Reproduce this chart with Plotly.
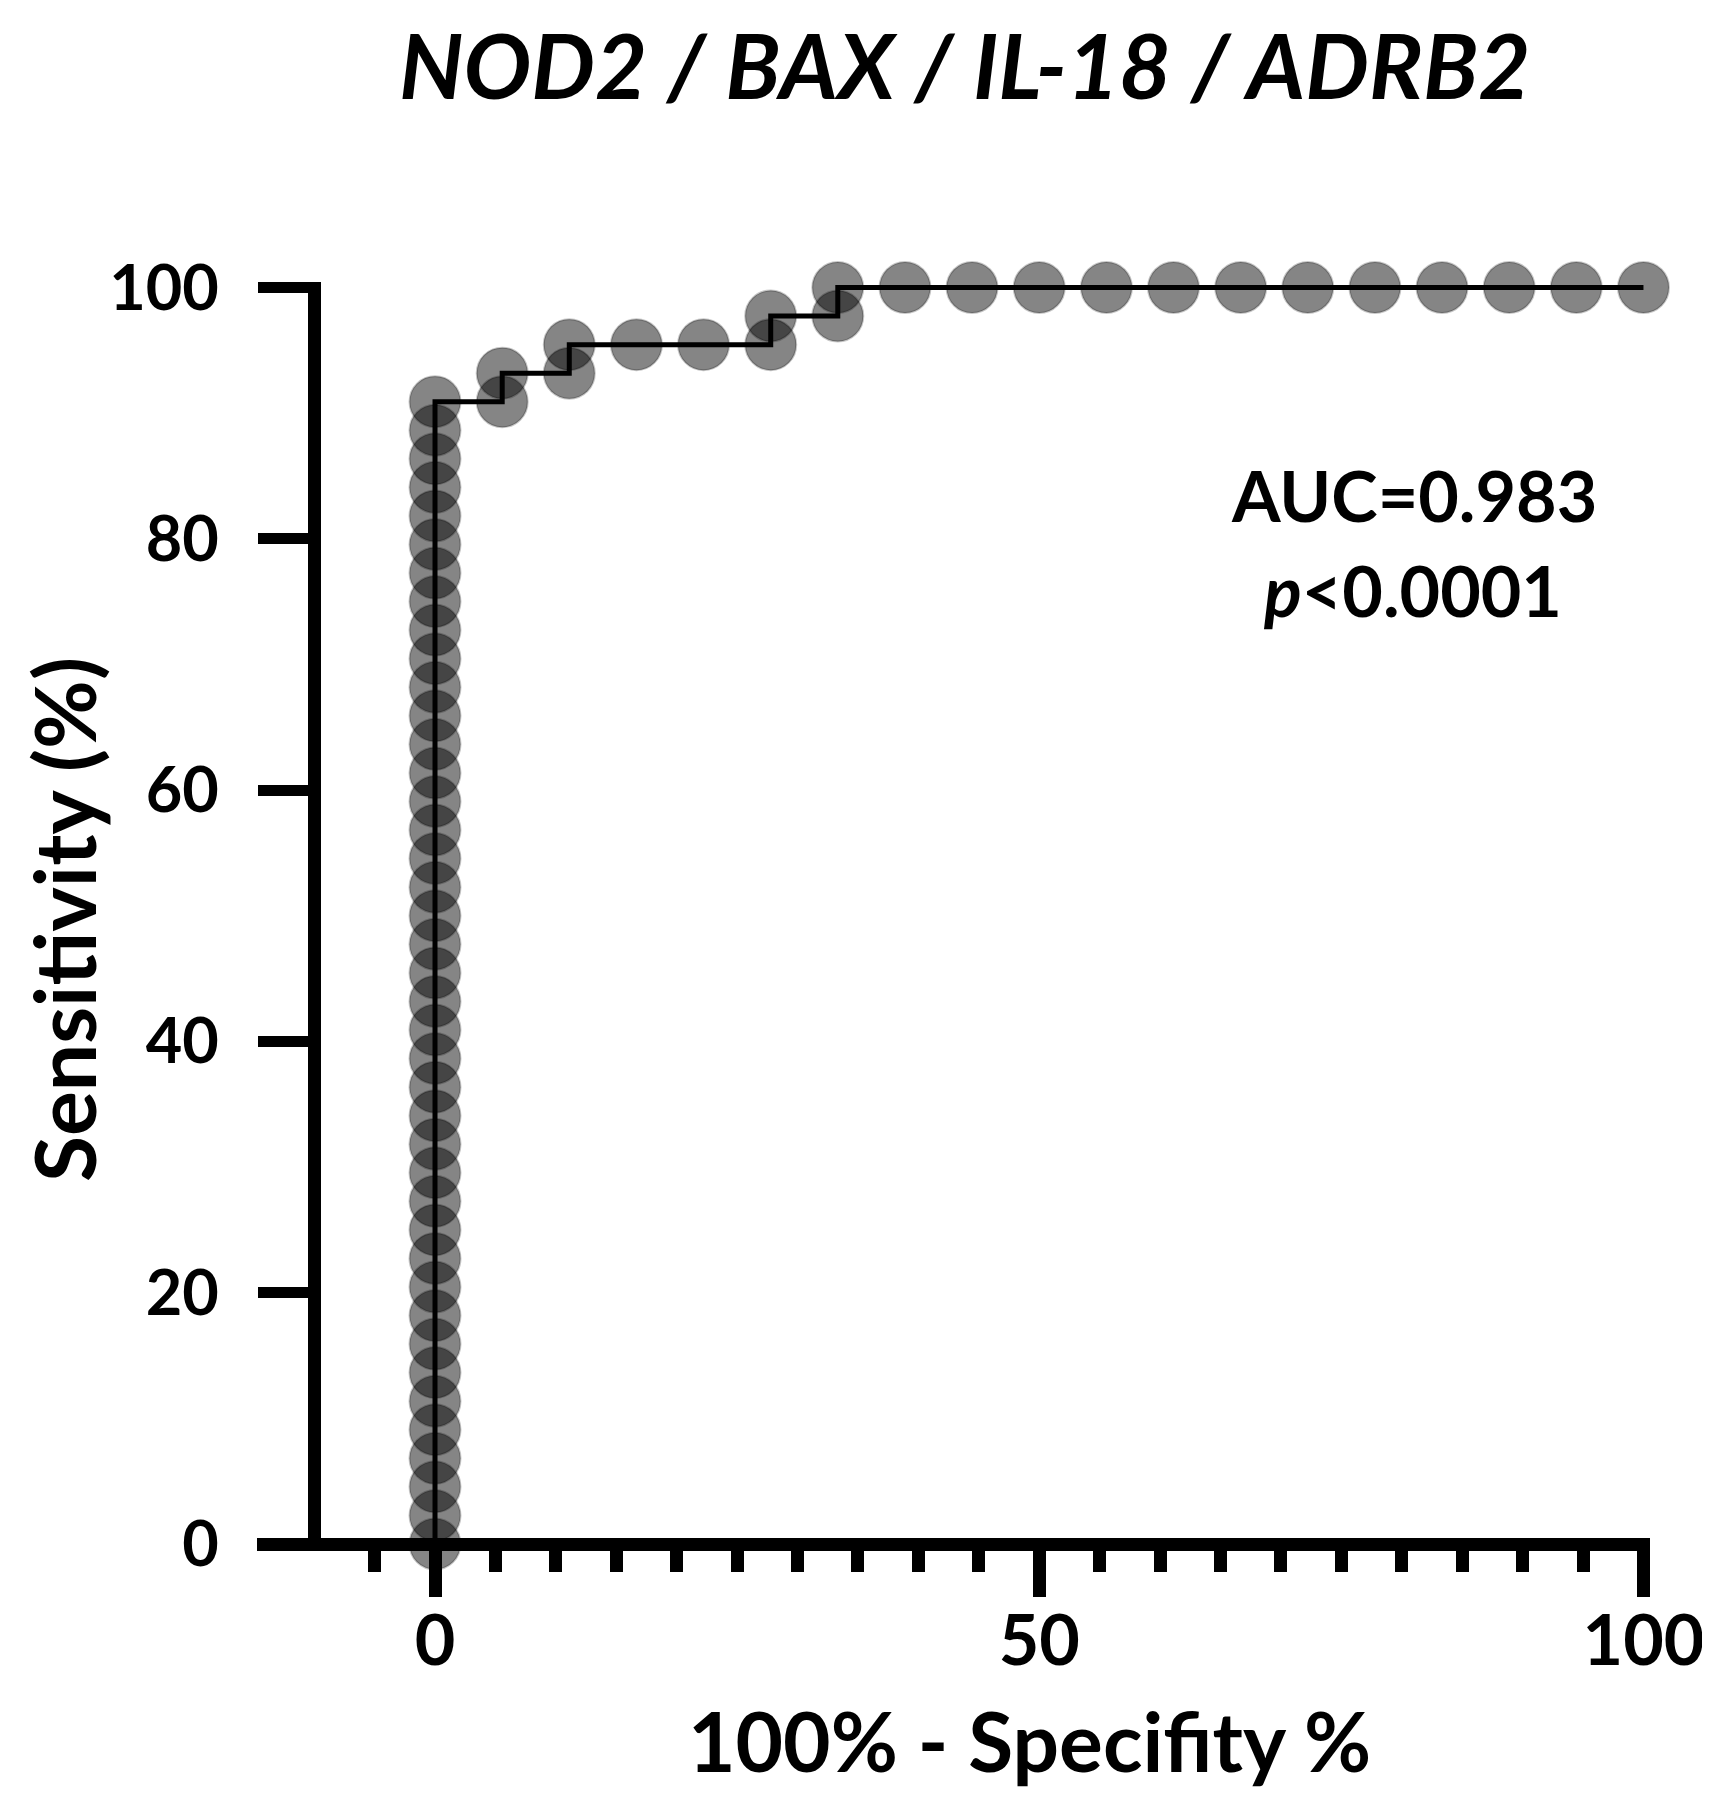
import plotly.graph_objects as go

# 100% - Specificity (%) for each ROC point
fpr = [0, 0, 0, 0, 0, 0, 0, 0, 0, 0,
       0, 0, 0, 0, 0, 0, 0, 0, 0, 0,
       0, 0, 0, 0, 0, 0, 0, 0, 0, 0,
       0, 0, 0, 0, 0, 0, 0, 0, 0, 0,
       0,
       5.56, 5.56, 11.11, 11.11, 16.67, 22.22, 27.78, 27.78, 33.33, 33.33,
       38.89, 44.44, 50.0, 55.56, 61.11, 66.67, 72.22, 77.78, 83.33, 88.89,
       94.44, 100.0]
# Sensitivity (%) for each ROC point
sens = [0.0, 2.27, 4.55, 6.82, 9.09, 11.36, 13.64, 15.91, 18.18, 20.45,
        22.73, 25.0, 27.27, 29.55, 31.82, 34.09, 36.36, 38.64, 40.91, 43.18,
        45.45, 47.73, 50.0, 52.27, 54.55, 56.82, 59.09, 61.36, 63.64, 65.91,
        68.18, 70.45, 72.73, 75.0, 77.27, 79.55, 81.82, 84.09, 86.36, 88.64,
        90.91,
        90.91, 93.18, 93.18, 95.45, 95.45, 95.45, 95.45, 97.73, 97.73, 100.0,
        100.0, 100.0, 100.0, 100.0, 100.0, 100.0, 100.0, 100.0, 100.0, 100.0,
        100.0, 100.0]

x_major_ticks = [0, 50, 100]
x_minor_ticks = [-5, 5, 10, 15, 20, 25, 30, 35, 40, 45, 55, 60, 65, 70, 75, 80, 85, 90, 95]
y_ticks = [0, 20, 40, 60, 80, 100]

title_text = "NOD2 / BAX / IL-18 / ADRB2"
x_title = "100% - Specifity %"
y_title = "Sensitivity (%)"
auc_text = "AUC=0.983"
p_text = "<i>p</i>&lt;0.0001"

W, H = 1710, 1801
OFF = 8  # page body margin
FONT = "Lato"


def fx(px):
    return (px - OFF) / W


def fy(py):
    return 1 - (py - OFF) / H


fig = go.Figure()
fig.add_trace(go.Scatter(
    x=fpr, y=sens, mode="lines+markers",
    line=dict(color="black", width=5),
    marker=dict(size=51, color="rgba(0,0,0,0.48)",
                line=dict(color="rgba(0,0,0,0.22)", width=2)),
    cliponaxis=False, showlegend=False, hoverinfo="skip",
))

fig.update_layout(
    width=W, height=H,
    margin=dict(l=0, r=0, t=0, b=0, autoexpand=False),
    paper_bgcolor="white", plot_bgcolor="white",
    font=dict(family=FONT, color="black"),
    xaxis=dict(
        domain=[fx(257), fx(1650)],
        range=[-14.73, 100.54],
        anchor="free", position=fy(1544),
        automargin=False,
        showline=True, linewidth=13, linecolor="black",
        showgrid=False, zeroline=False,
        tickmode="array", tickvals=x_major_ticks,
        ticks="outside", ticklen=46, tickwidth=13, tickcolor="black",
        ticklabelstandoff=-16,
        tickfont=dict(family=FONT, size=70, weight=700, color="black"),
        minor=dict(tickmode="array", tickvals=x_minor_ticks, ticks="outside",
                   ticklen=21, tickwidth=13, tickcolor="black", showgrid=False),
    ),
    yaxis=dict(
        domain=[fy(1550.3), fy(281.8)],
        range=[-0.5, 100.45],
        anchor="free", position=fx(313.5),
        automargin=False,
        showline=True, linewidth=13, linecolor="black",
        showgrid=False, zeroline=False,
        tickmode="array", tickvals=y_ticks,
        ticks="outside", ticklen=50, tickwidth=11, tickcolor="black",
        ticklabelstandoff=26,
        tickfont=dict(family=FONT, size=63, weight=700, color="black"),
    ),
)


def px_ann(text, x, y, size, **kw):
    fig.add_annotation(
        text=text, x=fx(x), y=fy(y), xref="paper", yref="paper",
        showarrow=False, xanchor="center", yanchor="middle",
        font=dict(family=FONT, size=size, weight=700, color="black",
                  style=kw.pop("style", "normal")),
        **kw)


px_ann(title_text, 965, 64, 90, style="italic")
px_ann(x_title, 1029, 1740, 82)
px_ann(y_title, 63, 920, 84, textangle=-90)
px_ann(auc_text, 1414, 495, 70)
px_ann(p_text, 1412, 590, 70)

fig.write_html("out.html")
